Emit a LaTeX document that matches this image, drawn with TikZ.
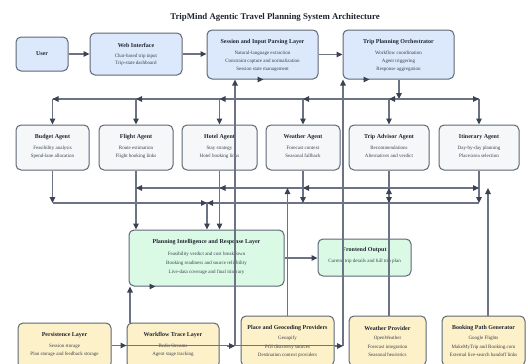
\documentclass[tikz,border=0pt]{standalone}
\usepackage{fontspec}
\setmainfont{Liberation Serif}
\usetikzlibrary{arrows.meta,calc}
\definecolor{bluef}{HTML}{DCE8FB}
\definecolor{grayf}{HTML}{F6F7F9}
\definecolor{greenf}{HTML}{DBFAE5}
\definecolor{yellowf}{HTML}{FDF1C9}
\definecolor{bordc}{HTML}{5E6775}
\definecolor{linec}{HTML}{6B7384}
\definecolor{arrc}{HTML}{3B4353}
\definecolor{titc}{HTML}{1F2430}
\definecolor{bodc}{HTML}{3A404C}
\begin{document}
\begin{tikzpicture}[x=1pt,y=-1pt,
  box/.style={draw=bordc, line width=1pt, rounded corners=5pt, inner sep=0pt},
  ttl/.style={font=\fontsize{6}{7}\selectfont\bfseries, text=titc, inner sep=0pt},
  bdy/.style={font=\fontsize{5}{6}\selectfont, text=bodc, inner sep=0pt},
  conn/.style={draw=linec, line width=1.1pt},
  arr/.style={conn, -{Triangle[length=6pt,width=5.5pt,color=arrc]}},
  mk/.style={conn, -{Triangle[length=6pt,width=5.5pt,color=arrc]}}
]
\clip (0,0) rectangle (528,364);
\fill[white] (0,0) rectangle (528,364);

\node[font=\fontsize{8.8}{10}\selectfont\bfseries, text=titc, inner sep=0pt] (title) at (275,17) {TripMind Agentic Travel Planning System Architecture};

% top row
\node[box, fill=bluef, minimum width=52, minimum height=34] (user) at (42,54) {};
\node[ttl] (user-t) at (user) {User};
\node[box, fill=bluef, minimum width=92, minimum height=42] (web) at (136,54) {};
\node[ttl] (web-t) at (136,45) {Web Interface};
\node[bdy] (web-1) at (136,56) {Chat-based trip input};
\node[bdy] (web-2) at (136,63) {Trip-state dashboard};

\node[box, fill=bluef, minimum width=111, minimum height=49] (session) at (262.5,54.5) {};
\node[ttl] (session-t) at (262.5,42) {Session and Input Parsing Layer};
\node[bdy] (session-1) at (262.5,53) {Natural-language extraction};
\node[bdy] (session-2) at (262.5,61) {Constraint capture and normalization};
\node[bdy] (session-3) at (262.5,69) {Session state management};

\node[box, fill=bluef, minimum width=111, minimum height=49] (orch) at (398.5,54.5) {};
\node[ttl] (orch-t) at (398.5,42) {Trip Planning Orchestrator};
\node[bdy] (orch-1) at (398.5,53) {Workflow coordination};
\node[bdy] (orch-2) at (398.5,61) {Agent triggering};
\node[bdy] (orch-3) at (398.5,69) {Response aggregation};

% agents
\node[box, fill=grayf, minimum width=73, minimum height=45] (budget) at (52.5,147.5) {};
\node[ttl] (budget-t) at (52.5,137) {Budget Agent};
\node[bdy] (budget-1) at (52.5,148) {Feasibility analysis};
\node[bdy] (budget-2) at (52.5,156) {Spend-lane allocation};

\node[box, fill=grayf, minimum width=74, minimum height=45] (flight) at (136,147.5) {};
\node[ttl] (flight-t) at (136,137) {Flight Agent};
\node[bdy] (flight-1) at (136,148) {Route estimation};
\node[bdy] (flight-2) at (136,156) {Flight booking links};

\node[box, fill=grayf, minimum width=75, minimum height=45] (hotel) at (219.5,147.5) {};
\node[ttl] (hotel-t) at (219.5,137) {Hotel Agent};
\node[bdy] (hotel-1) at (219.5,148) {Stay strategy};
\node[bdy] (hotel-2) at (219.5,156) {Hotel booking links};

\node[box, fill=grayf, minimum width=74, minimum height=45] (weather) at (303,147.5) {};
\node[ttl] (weather-t) at (303,137) {Weather Agent};
\node[bdy] (weather-1) at (303,148) {Forecast context};
\node[bdy] (weather-2) at (303,156) {Seasonal fallback};

\node[box, fill=grayf, minimum width=80, minimum height=45] (tripadv) at (389,147.5) {};
\node[ttl] (tripadv-t) at (389,137) {Trip Advisor Agent};
\node[bdy] (tripadv-1) at (389,148) {Recommendations};
\node[bdy] (tripadv-2) at (389,156) {Alternatives and verdict};

\node[box, fill=grayf, minimum width=80, minimum height=45] (itin) at (479,147.5) {};
\node[ttl] (itin-t) at (479,137) {Itinerary Agent};
\node[bdy] (itin-1) at (479,148) {Day-by-day planning};
\node[bdy] (itin-2) at (479,156) {Place/area selection};

% middle
\node[box, fill=greenf, minimum width=155, minimum height=56] (planning) at (206.5,258) {};
\node[ttl] (planning-t) at (206.5,242) {Planning Intelligence and Response Layer};
\node[bdy] (planning-1) at (206.5,254) {Feasibility verdict and cost breakdown};
\node[bdy] (planning-2) at (206.5,263) {Booking readiness and source reliability};
\node[bdy] (planning-3) at (206.5,272) {Live-data coverage and final itinerary};

\node[box, fill=greenf, minimum width=93, minimum height=37] (frontend) at (364.5,257.5) {};
\node[ttl] (frontend-t) at (364.5,250) {Frontend Output};
\node[bdy] (frontend-1) at (364.5,261) {Current trip details and full trip plan};

% bottom
\node[box, fill=yellowf, minimum width=93, minimum height=45] (persist) at (64.5,345.5) {};
\node[ttl] (persist-t) at (64.5,335) {Persistence Layer};
\node[bdy] (persist-1) at (64.5,346) {Session storage};
\node[bdy] (persist-2) at (64.5,354) {Plan storage and feedback storage};

\node[box, fill=yellowf, minimum width=92, minimum height=45] (workflow) at (173,345.5) {};
\node[ttl] (workflow-t) at (173,335) {Workflow Trace Layer};
\node[bdy] (workflow-1) at (173,346) {Redis Streams};
\node[bdy] (workflow-2) at (173,354) {Agent stage tracking};

\node[box, fill=yellowf, minimum width=93, minimum height=50] (place) at (287.5,341) {};
\node[ttl] (place-t) at (287.5,328) {Place and Geocoding Providers};
\node[bdy] (place-1) at (287.5,338) {Geoapify};
\node[bdy] (place-2) at (287.5,347) {POI discovery sources};
\node[bdy] (place-3) at (287.5,355) {Destination context providers};

\node[box, fill=yellowf, minimum width=77, minimum height=50] (wprov) at (387.5,341) {};
\node[ttl] (wprov-t) at (387.5,328) {Weather Provider};
\node[bdy] (wprov-1) at (387.5,338) {OpenWeather};
\node[bdy] (wprov-2) at (387.5,347) {Forecast integration};
\node[bdy] (wprov-3) at (387.5,355) {Seasonal heuristics};

\node[box, fill=yellowf, minimum width=83, minimum height=50] (booking) at (483.5,341) {};
\node[ttl] (booking-t) at (483.5,328) {Booking Path Generator};
\node[bdy] (booking-1) at (483.5,338) {Google Flights};
\node[bdy] (booking-2) at (483.5,347) {MakeMyTrip and Booking.com};
\node[bdy] (booking-3) at (483.5,355) {External live-search handoff links};

% ---------- connectors ----------
\coordinate (bus1) at (399,99);
\coordinate (busA) at (0,188);
\coordinate (busB) at (0,203);
\coordinate (jn) at (207,203);
\coordinate (v1) at (235,346);
\coordinate (v2) at (343,346);
\coordinate (v3) at (130,323);
\coordinate (bk) at (488,316);

\draw[arr] (user) -- (web);
\draw[arr] (web.east) -- (web.east -| session.west);
\draw[arr] (session.east) -- (session.east -| orch.west);

% orchestrator fan-out
\draw[arr] (orch.south -| bus1) -- (bus1);
\draw[conn] (budget.north |- bus1) -- (itin.north |- bus1);
\foreach \a in {budget,flight,hotel,weather,tripadv,itin}
  \draw[arr] (\a.north |- bus1) -- (\a.north);
\foreach \a in {budget,flight,hotel,weather,tripadv}
  \draw[mk] ($(\a.north |- bus1)+(8,0)$) -- (\a.north |- bus1);
\draw[mk] ($(itin.north |- bus1)+(-8,0)$) -- (itin.north |- bus1);

% agent fan-in
\draw[conn] (flight.south |- busA) -- (itin.south |- busA);
\draw[conn] (budget.south |- busB) -- (itin.south |- busB);
\draw[arr] (budget.south) -- (budget.south |- busB);
\draw[arr] (flight.south) -- (flight.south |- planning.north);
\draw[arr] (hotel.south) -- (hotel.south |- planning.north);
\draw[arr] (weather.south) -- (weather.south |- busB);
\draw[arr] (itin.south) -- (itin.south |- busB);
\draw[conn] (tripadv.south) -- (tripadv.south |- wprov.north);
\draw[arr] (jn) -- (jn |- planning.north);
\draw[mk] ($(jn)+(-8,0)$) -- (jn);
\draw[mk] ($(jn)+(8,0)$) -- (jn);
\foreach \a in {flight,hotel,weather}
  \draw[mk] ($(\a.south |- busA)+(8,0)$) -- (\a.south |- busA);
\draw[mk] ($(itin.south |- busA)+(-8,0)$) -- (itin.south |- busA);
\draw[mk] ($(tripadv.south |- busA)+(0,8)$) -- (tripadv.south |- busA);
\draw[mk] ($(tripadv.south |- busB)+(0,-8)$) -- (tripadv.south |- busB);
\draw[arr] (place.north) -- (place.north |- busA);
\draw[arr] (bk) -- (bk |- busA);

% long returns
\draw[arr] (v1) -- (v1 |- session.south);
\draw[arr] (v2) -- (v2 |- orch.south);
\draw[conn] (persist.east) -- (persist.east -| v2);
\draw[mk] ($(persist.east -| workflow.west)+(-8,0)$) -- (persist.east -| workflow.west);
\draw[mk] ($(v1)+(-8,0)$) -- (v1);
\draw[mk] ($(v2)+(-8,0)$) -- (v2);
\draw[arr] (v3) -- (v3 |- planning.south);
\draw[arr] (planning.east) -- (planning.east -| frontend.west);

% markers along box edges
\draw[mk] ($(session.south west)+(50,0)$) -- ($(session.south west)+(57,0)$);
\draw[mk] ($(orch.south west)+(20,0)$) -- ($(orch.south west)+(27,0)$);
\draw[mk] ($(planning.south west)+(20,0)$) -- ($(planning.south west)+(27,0)$);
\end{tikzpicture}
\end{document}
